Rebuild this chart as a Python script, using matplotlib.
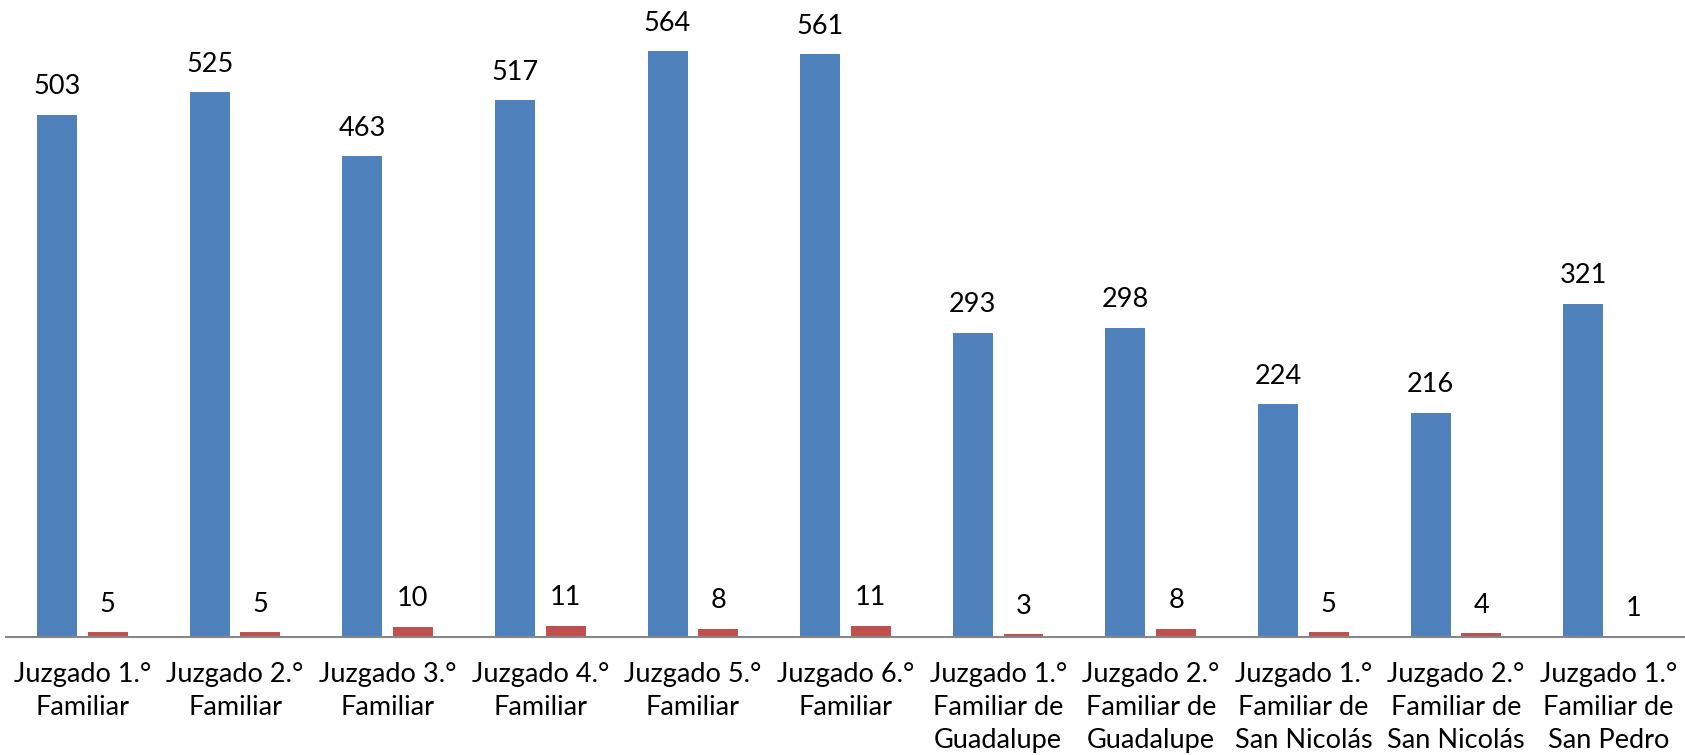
import matplotlib
matplotlib.use("Agg")
import matplotlib.pyplot as plt
import numpy as np

categories = [
    "Juzgado 1.°\nFamiliar", "Juzgado 2.°\nFamiliar", "Juzgado 3.°\nFamiliar",
    "Juzgado 4.°\nFamiliar", "Juzgado 5.°\nFamiliar", "Juzgado 6.°\nFamiliar",
    "Juzgado 1.°\nFamiliar de\nGuadalupe", "Juzgado 2.°\nFamiliar de\nGuadalupe",
    "Juzgado 1.°\nFamiliar de\nSan Nicolás", "Juzgado 2.°\nFamiliar de\nSan Nicolás",
    "Juzgado 1.°\nFamiliar de\nSan Pedro",
]
serie_azul = [503, 525, 463, 517, 564, 561, 293, 298, 224, 216, 321]
serie_roja = [5, 5, 10, 11, 8, 11, 3, 8, 5, 4, 1]

plt.rcParams['font.family'] = ['Lato', 'DejaVu Sans']

fig = plt.figure(figsize=(16.85, 7.55), dpi=100)
ax = fig.add_axes([0.0036, 0.1563, 0.9964, 0.8252])

x = np.arange(len(categories))
w = 0.262
off = 0.166
b1 = ax.bar(x - off, serie_azul, w, color="#4F81BD")
b2 = ax.bar(x + off, serie_roja, w, color="#C0504D")

for bars, vals in ((b1, serie_azul), (b2, serie_roja)):
    for b, v in zip(bars, vals):
        ax.annotate(str(v), (b.get_x() + b.get_width() / 2, b.get_height()),
                    xytext=(0, 11), textcoords="offset points",
                    ha="center", va="bottom", fontsize=19.5)

ax.set_xlim(-0.5, len(categories) - 0.5)
ax.set_ylim(0, 600)
ax.set_xticks(x)
ax.set_xticklabels(categories, fontsize=19.5, linespacing=1.4)
ax.tick_params(axis="x", length=0, pad=18)
ax.set_yticks([])
for s in ("top", "right", "left"):
    ax.spines[s].set_visible(False)
ax.spines["bottom"].set_color("#868686")
ax.spines["bottom"].set_linewidth(1.5)

fig.savefig("out.png", dpi=100)
